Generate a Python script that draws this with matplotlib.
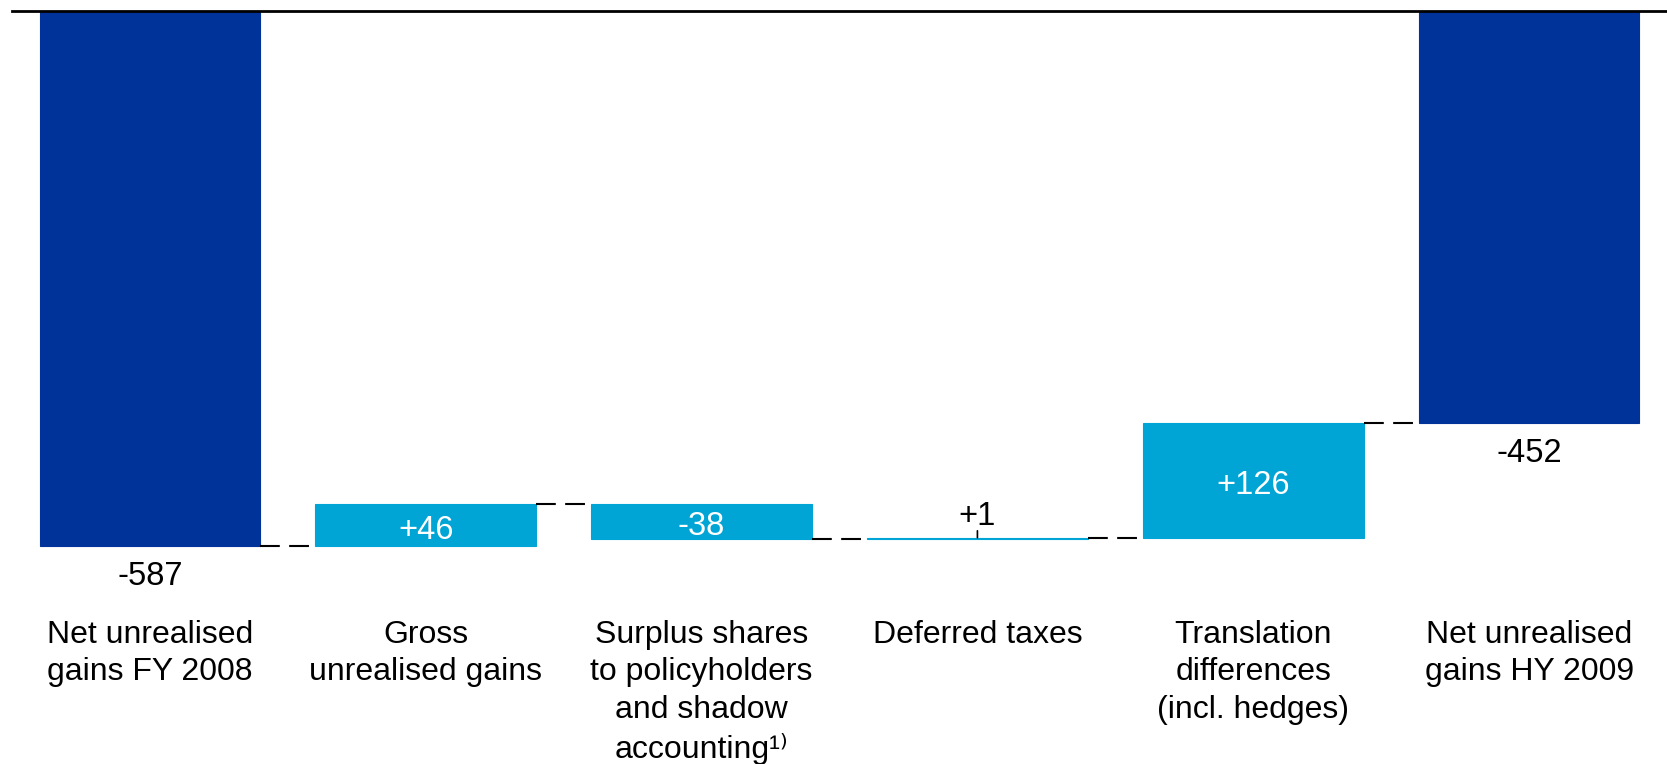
import matplotlib
matplotlib.use('Agg')
import matplotlib.pyplot as plt
import numpy as np

plt.rcParams['font.family'] = ['Liberation Sans', 'DejaVu Sans']

# EUR m, bridge of net unrealised gains
categories = ['Net unrealised\ngains FY 2008',
              'Gross\nunrealised gains',
              'Surplus shares\nto policyholders\nand shadow\naccounting\u00b9\u207e',
              'Deferred taxes',
              'Translation\ndifferences\n(incl. hedges)',
              'Net unrealised\ngains HY 2009']
values = [-587, 46, -38, 1, 126, -452]
is_total = [True, False, False, False, False, True]
value_labels = ['-587', '+46', '-38', '+1', '+126', '-452']

dark_blue = '#003399'
light_blue = '#00A5D6'

# bar geometry from the running total
bottoms, heights, colors, levels = [], [], [], []
running = 0
for v, tot in zip(values, is_total):
    if tot:
        bottoms.append(0)
        heights.append(v)
        colors.append(dark_blue)
        running = v
    else:
        bottoms.append(running)
        heights.append(v)
        colors.append(light_blue)
        running += v
    levels.append(running)

px_per_unit = 535 / 587
fig = plt.figure(figsize=(16.67, 7.64), dpi=100)
ax = fig.add_axes([12 / 1667, 0, 1 - 12 / 1667, 1 - 11 / 764])
ax.set_xlim(-0.5, 5.5)
ax.set_ylim(-753 / px_per_unit, 0)
ax.axis('off')

x = np.arange(len(values))
width = 0.8
ax.bar(x, heights, bottom=bottoms, width=width, color=colors,
       edgecolor=colors, linewidth=0.8)

ax.axhline(0, color='black', lw=2, clip_on=False, zorder=5)

# dashed connectors between neighbouring bars
for i in range(len(values) - 1):
    ax.plot([x[i] + width / 2, x[i + 1] - width / 2], [levels[i], levels[i]],
            color='black', lw=1.5, linestyle=(0, (9.5, 4.5)), solid_capstyle='butt')

val_size = 23.5
for i, (v, tot) in enumerate(zip(values, is_total)):
    lo = min(bottoms[i], bottoms[i] + heights[i])
    hi = max(bottoms[i], bottoms[i] + heights[i])
    if tot:
        ax.annotate(value_labels[i], (x[i], lo), xytext=(0, -11),
                    textcoords='offset points', ha='center', va='top',
                    fontsize=val_size, color='black')
    elif abs(v) < 5:
        ax.annotate(value_labels[i], (x[i], hi), xytext=(0, 9.5),
                    textcoords='offset points', ha='center', va='baseline',
                    fontsize=val_size, color='black')
        ax.annotate('', (x[i], hi), xytext=(x[i], hi + 7 / px_per_unit),
                    arrowprops=dict(arrowstyle='-', color='black', lw=1.2,
                                    shrinkA=0, shrinkB=0))
    else:
        ax.annotate(value_labels[i], (x[i], (lo + hi) / 2), xytext=(0, -1.2),
                    textcoords='offset points', ha='center',
                    va='center_baseline', fontsize=val_size, color='white')

for i, cat in enumerate(categories):
    ax.text(x[i], -(620 - 11) / px_per_unit, cat, ha='center', va='top',
            fontsize=23, linespacing=1.32, color='black')

fig.savefig('out.png', dpi=100)
